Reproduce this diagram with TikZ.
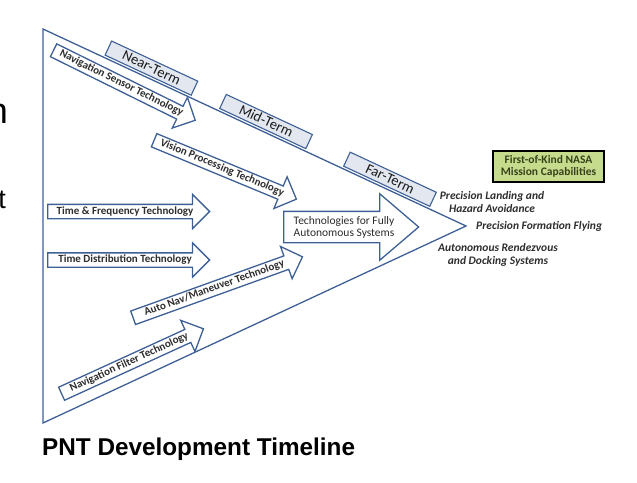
\documentclass[tikz,border=0pt]{standalone}
\usepackage{fontspec}
\setmainfont{Carlito}
\newfontfamily\captionfont{Liberation Sans}
\usetikzlibrary{shapes.arrows,positioning}

\definecolor{pntblue}{RGB}{62,96,150}
\definecolor{termfill}{RGB}{226,231,240}
\definecolor{nasagreen}{RGB}{198,219,140}
\definecolor{nasatext}{RGB}{55,66,28}
\definecolor{labelgray}{RGB}{45,45,45}

\begin{document}
\begin{tikzpicture}[x=1pt,y=-1pt,
  techarrow/.style={single arrow,draw=pntblue,line width=1.3pt,fill=white,
    single arrow head extend=10pt,single arrow tip angle=90,
    inner xsep=2pt,inner ysep=1.5pt,text height=7.5pt,text depth=2.5pt,
    anchor=tail,font=\bfseries\fontsize{11}{12}\selectfont,text=labelgray},
  bigarrow/.style={single arrow,draw=pntblue,line width=1.3pt,fill=white,
    single arrow head extend=17.5pt,single arrow tip angle=81,
    inner xsep=0pt,inner ysep=15pt,anchor=tail},
  termbox/.style={draw=pntblue,line width=1.1pt,fill=termfill,minimum width=95pt,
    text height=9.5pt,text depth=1pt,inner ysep=2.5pt,
    font=\fontsize{14.5}{16}\selectfont,text=black!90},
  mission/.style={align=center,inner sep=0pt,text=labelgray,
    font=\bfseries\itshape\fontsize{11.5}{13}\selectfont}]
\useasboundingbox (0,0) rectangle (637,482);
% outer triangle
\coordinate (top) at (43,29);
\coordinate (tip) at (466,226);
\coordinate (bot) at (43,423);
\draw[pntblue,line width=1.3pt] (top) -- (tip) -- (bot) -- cycle;
% time frames on the upper edge
\path (top) -- (tip)
  node[termbox,sloped,above=2pt,pos=0.246] (near) {Near-Term}
  node[termbox,sloped,above=2pt,pos=0.517] (mid) {Mid-Term}
  node[termbox,sloped,above=2pt,pos=0.81] (far) {Far-Term};
% technology arrows
\node[techarrow,rotate=-26.3,minimum height=158pt] (navsensor) at (53,50) {Navigation Sensor Technology};
\node[techarrow,rotate=-22.5,minimum height=154pt] (vision) at (153.5,140) {Vision Processing Technology};
\node[techarrow,minimum height=162pt] (timefreq) at (47,211.5) {Time \& Frequency Technology};
\node[techarrow,minimum height=162pt] (timedist) at (47,260) {Time Distribution Technology};
\node[techarrow,rotate=19.8,minimum height=180pt] (autonav) at (132.5,318) {Auto Nav/Maneuver Technology};
\node[techarrow,rotate=24.6,minimum height=156pt] (navfilter) at (61,394) {Navigation Filter Technology};
\node[bigarrow,minimum height=135pt] (autosys) at (283,227) {};
\node[align=center,inner sep=0pt,text=labelgray,font=\fontsize{11.5}{12}\selectfont] (autosystext) at (344,227.5) {Technologies for Fully\\Autonomous Systems};
% capabilities
\node[draw=black,line width=1.3pt,fill=nasagreen,text=nasatext,align=center,
  minimum width=111pt,minimum height=31pt,inner sep=1pt,
  font=\bfseries\fontsize{11.5}{11.5}\selectfont] (firstkind) at (548.5,166.5) {First-of-Kind NASA\\Mission Capabilities};
\node[mission] (landing) at (492,202) {Precision Landing and\\Hazard Avoidance};
\node[mission,right=10pt of tip] (formation) {Precision Formation Flying};
\node[mission] (rendezvous) at (498,255) {Autonomous Rendezvous\\and Docking Systems};
% caption and cut-off text at the left
\node[font=\captionfont\bfseries\fontsize{24.3}{28}\selectfont,anchor=base west,inner sep=0pt] (title) at (42,455) {PNT Development Timeline};
\node[font=\captionfont\fontsize{36}{40}\selectfont,anchor=base east,inner sep=0pt] (fragn) at (8,123) {n};
\node[font=\captionfont\fontsize{27}{30}\selectfont,anchor=base east,inner sep=0pt] (fragt) at (6,208) {t};
\end{tikzpicture}
\end{document}
